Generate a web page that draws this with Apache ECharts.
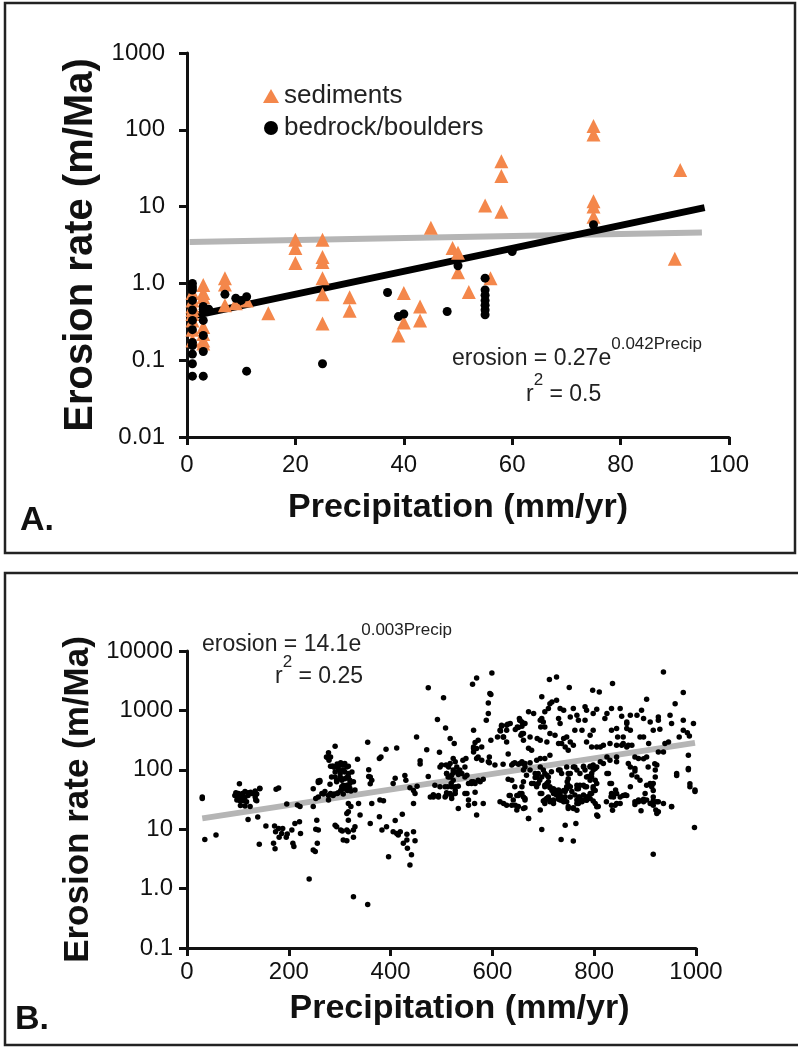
<!DOCTYPE html>
<html><head><meta charset="utf-8">
<script src="https://cdn.jsdelivr.net/npm/echarts@6/dist/echarts.min.js"></script>
<style>html,body{margin:0;padding:0;background:#fff}#c{width:798px;height:1050px}</style>
</head><body><div id="c"></div>
<script>
const FONT = '"Liberation Sans", Arial, Helvetica, sans-serif';
// ---------- Panel A data ----------
const sedPrecip = [1,1,1,1,1,1,1,1, 3,3,3,3,3,3,3, 7,7,7, 9, 11, 15, 20,20,20, 25,25,25,25,25,25, 30,30, 39, 40,40, 43,43, 45, 49, 50,50, 52, 55, 56, 58,58,58, 75,75,75,75,75, 90, 91];
const sedErosion = [0.75,0.6,0.5,0.45,0.4,0.33,0.25,0.18, 0.95,0.75,0.66,0.27,0.22,0.18,0.165, 1.17,0.97,0.52, 0.55, 0.6, 0.41, 3.7,2.9,1.84, 3.7,2.2,1.9,1.17,0.72,0.3, 0.66,0.44, 0.21, 0.75,0.31, 0.5,0.33, 5.3, 2.9, 2.5,1.4, 0.77, 10.3, 1.17, 39,25,8.6, 112,87,11.7,10,7.4, 2.1, 30];
const bedPrecip = [1,1,1,1,1,1,1,1,1,1,1,1, 3,3,3,3,3,3, 4, 7, 9, 10, 11, 11, 25, 37, 39, 40, 48, 50, 55,55,55,55,55,55,55, 60, 75];
const bedErosion = [1.0,0.9,0.82,0.6,0.45,0.33,0.25,0.17,0.155,0.12,0.09,0.062, 0.5,0.46,0.33,0.21,0.13,0.062, 0.46, 0.72, 0.64, 0.6, 0.67, 0.072, 0.09, 0.76, 0.37, 0.40, 0.43, 1.7, 1.17,0.82,0.7,0.6,0.52,0.45,0.39, 2.6, 5.8];
const fitBlackA = [[0.5, 0.37], [95.5, 9.7]];
const fitGrayA = [[0.5, 3.45], [95, 4.6]];
const yTickLabelsA = {'-2':'0.01','-1':'0.1','0':'1.0','1':'10','2':'100','3':'1000'};
// ---------- Panel B data ----------
const basinPoints = [
[30,35],[30,33],[35,6.7],[57,8.0],[103,58],[96,41],[99,35],[103,37],[107,33],[111,30],[114,35],[117,29],[120,41],[125,42],[130,40],[134,35],[137,30],[143,48],[105,25],[114,24.5],[124,24],[98,31],[109,40],[120,14.6],[139,16],[142,5.6],[155,11.3],[170,5.8],[173,4.7],[172,11.3],[174,9.1],[180,10.3],[181,7.3],[186,8.5],[188,10.3],[195,7.3],[197,8.3],[206,9.7],[208,5.8],[210,5.1],[212,12.5],[221,13.3],[223,8.5],[222,24],[196,26.5],[217,25.5],[175,47],[180,49.6],[240,1.45],[248,4.46],[252,4.2],[248,24],[253,33],[258,65],[261,63],[255,14.2],[253,10],[258,9.7],[256,5.8],[268,39],[278,31],[274,165],[278,193],[282,165],[291,250],[286,115],[289,110],[295,125],[302,131],[307,120],[314,112],[307,99],[298,99],[291,76],[301,76],[310,71],[317,76],[304,67],[294,63],[307,55],[314,52],[320,59],[282,40],[289,39],[295,40],[302,45],[308,48],[315,45],[322,44],[317,27],[317,19.6],[314,18.4],[317,14.2],[314,9.7],[317,9.1],[322,24],[291,11.7],[294,11],[302,9.7],[307,6.6],[305,9.3],[314,6.4],[327,7.3],[327,9.7],[330,11],[337,27],[340,17.3],[327,0.73],[355,0.54],[335,150],[355,290],[360,76],[360,58],[363,27],[360,12.5],[378,155],[381,165],[379,31],[386,30],[378,16.2],[383,9.7],[392,11],[391,222],[412,233],[396,3.44],[405,59],[409,14],[405,9.1],[412,8.5],[419,9.1],[415,8],[423,17.8],[425,5.8],[430,67],[432,8.2],[432,6.6],[433,4.8],[438,2.5],[441,3.7],[445,9.1],[448,6.4],[451,358],[458,142],[458,125],[445,45],[448,40],[445,27],[471,218],[474,2400],
[569,3500],[561,2750],[599,4270],[595,1920],[597,1850],[592,1330],[592,885],[588,684],[504,1630],[492,700],[508,505],[563,464],[572,315],[597,315],[517,335],[525,277],[496,198],[563,228],[563,200],[594,165],[594,131],[569,155],[579,145],[548,155],[542,145],[523,155],[527,136],[517,128],[509,120],[500,120],[497,112],[514,112],[530,112],[536,99],[523,99],[510,87],[517,76],[536,87],[546,112],[550,81],[487,55],[497,52],[507,52],[520,52],[527,45],[517,40],[509,37],[520,33],[533,22.3],[550,40],[553,25.4],[553,31],[559,59],[566,42],[565,27],[582,27],[569,17.3],[478,35],[484,35],[494,37],[563,63],[576,63],
[618,562],[615,464],[622,358],[628,562],[654,684],[649,527],[645,475],[661,315],[658,407],[681,885],[674,358],[688,336],[677,214],[694,315],[697,1690],[703,945],[694,684],[695,527],[703,527],[710,1080],[713,1300],[717,1390],[726,1480],[713,407],[723,380],[707,295],[730,277],[736,277],[740,336],[746,358],[753,295],[743,243],[749,214],[759,260],[762,464],[776,464],[785,295],[792,380],[798,464],[795,243],[805,243],[812,243],[818,260],[831,277],[834,464],[844,495],[846,358],[864,600],[864,495],[871,464],[867,260],[874,260],[857,277],[864,243],[712,3300],[726,3660],[751,2420],[797,2180],[810,2050],[836,2830],[653,730],[658,640],[635,600],[628,464],[671,945],[697,730],[700,640],[733,1080],[740,1010],[759,1080],[766,830],[769,684],[785,1010],[782,1150],[805,1050],[825,885],[821,730],[834,1080],[851,1080],[854,800],[864,640],[730,730],[733,600],[753,778],[782,684],[798,885],
[641,128],[654,128],[661,128],[674,131],[687,145],[694,155],[703,155],[713,176],[694,112],[700,99],[690,87],[697,76],[707,81],[710,76],[713,52],[717,45],[720,40],[723,42],[726,45],[730,40],[740,45],[746,52],[753,52],[747,63],[749,71],[753,87],[736,87],[733,99],[746,112],[759,112],[766,99],[779,112],[782,99],[792,112],[798,120],[805,112],[772,87],[785,76],[795,76],[798,99],[792,67],[779,55],[766,55],[769,48],[785,52],[798,52],[805,59],[802,45],[792,40],[772,35],[779,31],[766,31],[753,35],[740,33],[733,31],[720,31],[707,33],[703,31],[694,40],[707,59],[710,63],[703,52],[661,99],[664,112],[674,99],[684,87],[687,76],[681,59],[661,63],[658,52],[648,37],[654,40],[661,35],[664,31],[635,37],[641,31],[628,25.4],[638,25.4],[645,25.4],[648,21],[651,24],[661,22.3],[671,15.2],[615,29],[622,27],[697,9.9],[743,11.7],[764,12.5],[735,6.7],[759,6.3],[694,21],[703,27],[713,29],[720,27],[730,35],[740,29],[749,22.3],[759,22.3],[766,27],[776,29],[785,31],[792,33],[805,17.3],[808,24],[818,128],[825,87],[831,59],[834,40],[838,35],[844,27],[851,35],[844,40],[834,25.4],[857,37],[864,37],[871,52],[880,29],[887,29],[897,29],[903,31],[910,27],[916,25.4],[923,29],[926,19.6],[923,18.4],[900,40],[903,55],[913,52],[916,45],[916,35],[920,99],[923,120],[920,76],[910,59],[890,67],[884,76],[880,105],[871,112],[867,128],[887,155],[880,165],[903,165],[926,200],[936,200],[939,277],[946,295],[962,87],[952,24],[936,27],[916,3.8],[967,358],[975,464],[983,420],[985,176],[985,100],[988,52],[998,43],[997,10.7],[987,370],[995,600],[975,684],[959,1300],[975,2000],[936,4450],[844,260],[854,260],[857,358],[871,830],[884,830],[893,1010],[897,730],[910,640],[916,464],[929,480],[926,684],[926,778],[949,830],[952,600],[903,1540],[890,358],[897,358],[907,277],[831,145],[844,165],[844,136],[812,136],[825,165],
[664,33],[664,23],[671,15.2],[700,29.7],[707,32.9],[713,30.8],[720,29.7],[730,31.8],[736,30.8],[743,35.1],[746,28.9],[749,24],[759,22.9],[766,20.9],[769,27.1],[775,29.7],[785,30.8],[788,35.1],[798,29.7],[802,27.1],[805,23.8],[807,16.6],[824,28.9],[833,35.1],[836,20.9],[841,25.4],[851,27.1],[861,37.4],[880,26],[887,31],[897,32],[892,20.4],[913,27.1],[916,30],[926,28.9],[921,21],[952,23.8],
[684,74],[693,67],[690,59],[703,55],[713,50],[720,48],[723,43],[730,45.5],[726,37.5],[733,40],[736,35],[743,43],[746,48],[749,55],[756,43],[762,37.5],[769,35],[779,37.5],[785,35],[795,40],[798,48],[802,67],[795,87],[788,77],[782,52],[772,55],[766,48],[710,35],[697,40],[687,52],[677,59],[703,87],[716,93],[730,99],[749,87],[762,112],[779,115],[792,115],[802,105],[828,87],[834,59],[842,45.5],[861,37.5],[874,82],[880,95],[897,154],[906,112],[916,59],[919,127],[962,80],[985,105],[988,58],[998,45.5],
[618,540],[616,452],[630,582],[621,358],[628,294],[610,358],[654,684],[651,515],[658,543],[664,600],[656,382],[661,408],[671,230],[631,185],[566,288],[563,243],[569,228],[579,243],[572,164],
[474,77],[428,80],[409,72],[357,100],[357,77],[363,67],[438,50],[452,53],
[510,87],[513,76],[520,81],[523,89],[530,92],[533,83],[540,87],[546,76],[523,67],[519,59],[527,52],[533,53],[512,52],[507,35],[494,35],[484,38],[510,41],[520,37],[527,40],[546,40],[553,59],[559,63],[566,59],[572,67],[582,69],[592,136],[605,120],[621,124],[638,120],[644,131],[651,124],[658,136],[664,128],[631,69],[638,67],[644,52],[651,37],[658,40],[633,37],[667,81],
[94,37],[101,40],[107,35],[114,43],[120,37],[127,40],[134,44],[137,39],[143,49],[135,31],[111,33],[104,30],
[248,48],[258,61],[261,66],[268,40],[271,43],
[276,161],[279,145],[282,115],[287,115],[297,112],[304,120],[310,128],[317,115],[291,92],[301,87],[310,92],[317,87],[324,92],[284,76],[294,67],[304,71],[314,74],[320,67],[327,63],[304,52],[314,55],[320,49],[330,45.5],[307,39],[297,41],[287,37],[278,37],[281,57],[265,40],[258,35]
];
const fitGrayB = [[30, 15.2], [998, 284]];
const yTickLabelsB = {'-1':'0.1','0':'1.0','1':'10','2':'100','3':'1000','4':'10000'};

const zip = (a, b) => a.map((v, i) => [v, b[i]]);
const logLabel = map => v => map[String(Math.round(Math.log10(v)))] || '';

const axisLineStyle = {lineStyle: {color: '#111', width: 3}};
const axisTickStyle = {show: true, inside: false, length: 8, lineStyle: {color: '#111', width: 3}};
const tickFont = {color: '#111', fontSize: 24, fontFamily: FONT};
const titleFont = {color: '#111', fontSize: 34, fontWeight: 'bold', fontFamily: FONT};
const supText = (main, sup) => ({
  text: '{a|' + main + '}{s|' + sup + '}', fill: '#222',
  rich: {a: {fontSize: 23, fontFamily: FONT, fill: '#222', lineHeight: 34, verticalAlign: 'bottom'},
         s: {fontSize: 17, fontFamily: FONT, fill: '#222', lineHeight: 34, verticalAlign: 'top'}}
});

const chart = echarts.init(document.getElementById('c'), null, {renderer: 'canvas'});
chart.setOption({
  animation: false,
  backgroundColor: '#fff',
  textStyle: {fontFamily: FONT},
  grid: [
    {left: 187, top: 53, width: 542, height: 384, containLabel: false},
    {left: 187, top: 651, width: 509, height: 297, containLabel: false}
  ],
  legend: {
    orient: 'vertical', left: 258, top: 78, itemWidth: 16, itemHeight: 14, itemGap: 6,
    data: ['sediments', 'bedrock/boulders'],
    textStyle: {fontSize: 26, color: '#222', fontFamily: FONT}
  },
  xAxis: [
    {gridIndex: 0, type: 'value', min: 0, max: 100, interval: 20,
     axisLine: axisLineStyle, axisTick: axisTickStyle, splitLine: {show: false},
     axisLabel: Object.assign({margin: 16, formatter: v => String(v)}, tickFont),
     name: 'Precipitation (mm/yr)', nameLocation: 'middle', nameGap: 54, nameTextStyle: titleFont},
    {gridIndex: 1, type: 'value', min: 0, max: 1000, interval: 200,
     axisLine: axisLineStyle, axisTick: axisTickStyle, splitLine: {show: false},
     axisLabel: Object.assign({margin: 12, formatter: v => String(v)}, tickFont),
     name: 'Precipitation (mm/yr)', nameLocation: 'middle', nameGap: 44,
     nameTextStyle: Object.assign({}, titleFont, {padding: [0, 0, 0, 36]})}
  ],
  yAxis: [
    {gridIndex: 0, type: 'log', logBase: 10, min: 0.01, max: 1000,
     axisLine: axisLineStyle, axisTick: axisTickStyle, splitLine: {show: false}, minorTick: {show: false},
     axisLabel: Object.assign({margin: 22, formatter: logLabel(yTickLabelsA)}, tickFont),
     name: 'Erosion rate (m/Ma)', nameLocation: 'middle', nameRotate: 90, nameGap: 78,
     nameTextStyle: Object.assign({}, titleFont, {fontSize: 40})},
    {gridIndex: 1, type: 'log', logBase: 10, min: 0.1, max: 10000,
     axisLine: axisLineStyle, axisTick: axisTickStyle, splitLine: {show: false}, minorTick: {show: false},
     axisLabel: Object.assign({margin: 14, formatter: logLabel(yTickLabelsB)}, tickFont),
     name: 'Erosion rate (m/Ma)', nameLocation: 'middle', nameRotate: 90, nameGap: 80,
     nameTextStyle: Object.assign({}, titleFont, {fontSize: 35})}
  ],
  series: [
    {name: 'gray fit A', type: 'line', xAxisIndex: 0, yAxisIndex: 0, data: fitGrayA, symbol: 'none',
     lineStyle: {color: '#b5b5b5', width: 6}, z: 1, silent: true},
    {name: 'black fit A', type: 'line', xAxisIndex: 0, yAxisIndex: 0, data: fitBlackA, symbol: 'none',
     lineStyle: {color: '#000', width: 7}, z: 2, silent: true},
    {name: 'sediments', type: 'scatter', xAxisIndex: 0, yAxisIndex: 0, data: zip(sedPrecip, sedErosion),
     symbol: 'triangle', symbolSize: 14, itemStyle: {color: '#f4874b', opacity: 1}, z: 3},
    {name: 'bedrock/boulders', type: 'scatter', xAxisIndex: 0, yAxisIndex: 0, data: zip(bedPrecip, bedErosion),
     symbol: 'circle', symbolSize: 9, itemStyle: {color: '#000', opacity: 1}, z: 4},
    {name: 'gray fit B', type: 'line', xAxisIndex: 1, yAxisIndex: 1, data: fitGrayB, symbol: 'none',
     lineStyle: {color: '#b5b5b5', width: 6}, z: 1, silent: true},
    {name: 'basins', type: 'scatter', xAxisIndex: 1, yAxisIndex: 1, data: basinPoints,
     symbol: 'circle', symbolSize: 5.5, itemStyle: {color: '#000', opacity: 1}, z: 3}
  ],
  graphic: [
    {type: 'rect', shape: {x: 5, y: 3, width: 790, height: 550}, style: {fill: 'none', stroke: '#222', lineWidth: 2.5}, silent: true},
    {type: 'rect', shape: {x: 5, y: 573, width: 800, height: 472}, style: {fill: 'none', stroke: '#222', lineWidth: 2.5}, silent: true},
    {type: 'text', x: 20, y: 504, style: {text: 'A.', font: 'bold 34px ' + FONT, fill: '#111'}},
    {type: 'text', x: 15, y: 1003, style: {text: 'B.', font: 'bold 34px ' + FONT, fill: '#111'}},
    {type: 'text', x: 452, y: 336, style: supText('erosion = 0.27e', '0.042Precip')},
    {type: 'text', x: 526, y: 372, style: {text: '{a|r}{s|2}{a| = 0.5}', fill: '#222', rich: supText('', '').rich}},
    {type: 'text', x: 202, y: 622, style: supText('erosion = 14.1e', '0.003Precip')},
    {type: 'text', x: 275, y: 654, style: {text: '{a|r}{s|2}{a| = 0.25}', fill: '#222', rich: supText('', '').rich}}
  ]
});
</script></body></html>
